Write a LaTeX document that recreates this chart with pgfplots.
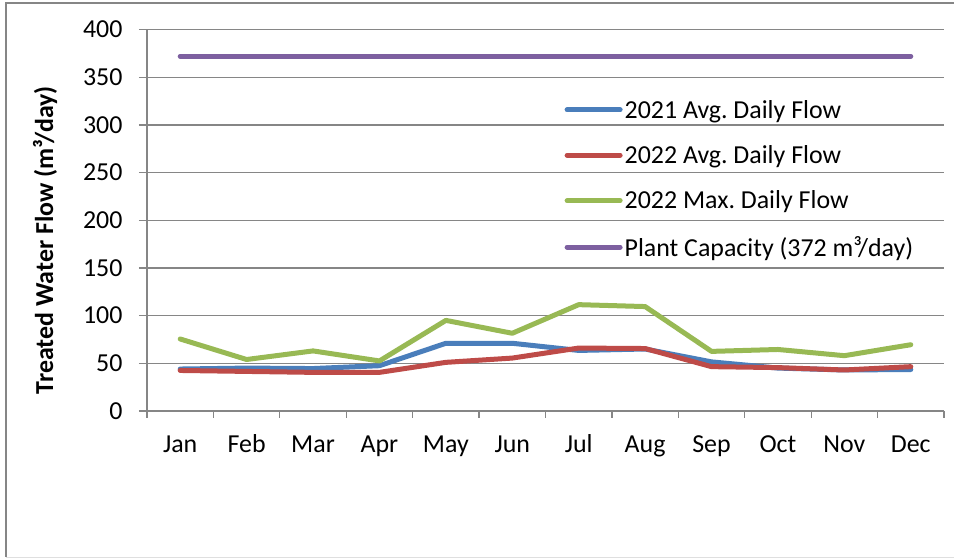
\documentclass[border=0pt]{standalone}
\usepackage{pgfplots}
\pgfplotsset{compat=1.18}
\usepackage{fontspec}
\setmainfont{Carlito}
\frenchspacing
\definecolor{cblue}{HTML}{4A7EBB}
\definecolor{cred}{HTML}{BE4B48}
\definecolor{cgreen}{HTML}{98B954}
\definecolor{cpurple}{HTML}{7D60A0}
\definecolor{gridgray}{HTML}{868686}
\begin{document}
\begin{tikzpicture}
\begin{axis}[
  scale only axis, width=797bp, height=381.5bp,
  xmin=-0.5, xmax=11.5, ymin=0, ymax=400,
  xtick={0,...,11},
  xticklabels={Jan,Feb,Mar,Apr,May,Jun,Jul,Aug,Sep,Oct,Nov,Dec},
  minor xtick={-0.5,0.5,...,11.5},
  ytick={0,50,...,400},
  every major x tick/.append style={draw=none},
  tick align=outside, major tick length=8bp, minor tick length=7bp,
  tick style={gridgray, line width=1.3bp},
  axis x line*=bottom, axis y line*=left,
  axis line style={gridgray, line width=1.3bp},
  ymajorgrids, grid style={gridgray, line width=1.3bp},
  tick label style={font=\fontsize{26}{30}\selectfont},
  xticklabel style={text height=18bp, text depth=5bp, yshift=-12bp},
  yticklabel style={xshift=-13bp},
  /pgf/number format/assume math mode=true,
  ylabel={\bfseries Treated Water Flow (m³/day)},
  ylabel style={font=\fontsize{26}{30}\selectfont, at={(axis description cs:-0.128,0.448)}, anchor=center},
  legend style={at={(rel axis cs:0.52,0.826)}, anchor=north west, draw=none, fill=none,
    font=\fontsize{26}{30}\selectfont, row sep=22bp},
  legend cell align=left,
  legend image code/.code={\draw[#1, line width=5bp] (0bp,0bp) -- (53bp,0bp);},
  every axis plot/.append style={line width=5bp, line cap=round, line join=round},
]
\addplot[cblue] coordinates {(0,44) (1,45) (2,44.5) (3,47.5) (4,71) (5,71) (6,63.5) (7,65) (8,51.5) (9,45) (10,43) (11,43.5)};
\addlegendentry{2021 Avg. Daily Flow}
\addplot[cred] coordinates {(0,42.5) (1,41.5) (2,40.5) (3,40.5) (4,51) (5,55.5) (6,66) (7,65.5) (8,46.5) (9,45.5) (10,43) (11,46.5)};
\addlegendentry{2022 Avg. Daily Flow}
\addplot[cgreen] coordinates {(0,75.5) (1,54) (2,63) (3,52.5) (4,95) (5,81.5) (6,111.5) (7,109.5) (8,62.5) (9,64.5) (10,58) (11,69.5)};
\addlegendentry{2022 Max. Daily Flow}
\addplot[cpurple] coordinates {(0,372) (1,372) (2,372) (3,372) (4,372) (5,372) (6,372) (7,372) (8,372) (9,372) (10,372) (11,372)};
\addlegendentry{Plant Capacity (372 m³/day)}
\end{axis}
\path[use as bounding box] ([xshift=-147bp,yshift=-147bp]current axis.south west) rectangle ([xshift=10bp,yshift=29.5bp]current axis.north east);
\draw[gridgray, line width=1.3bp] ([xshift=20bp,yshift=26.5bp]current axis.north east) -- ([xshift=-141bp,yshift=26.5bp]current axis.north west) -- ([xshift=-141bp,yshift=-146bp]current axis.south west);
\draw[gray!25, line width=1bp] ([xshift=-141bp,yshift=-146bp]current axis.south west) -- ([xshift=20bp,yshift=-146bp]current axis.south east);
\end{tikzpicture}
\end{document}
